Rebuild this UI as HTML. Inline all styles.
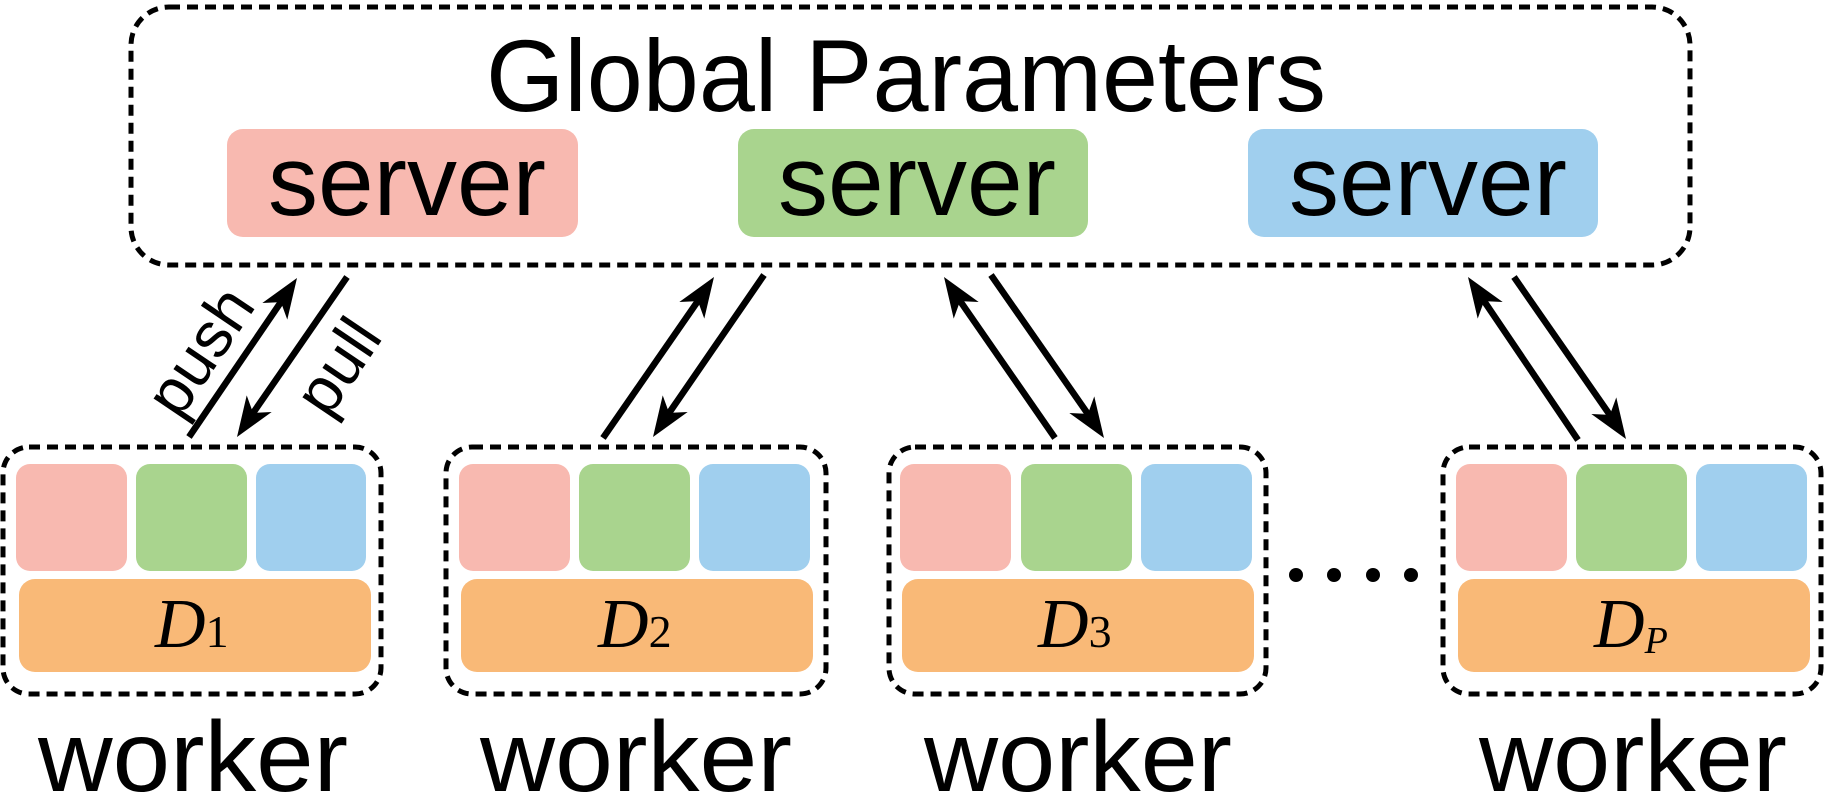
<!DOCTYPE html>
<html><head><meta charset="utf-8"><style>
html,body{margin:0;padding:0;background:#fff;}
svg{display:block;}
</style></head><body>
<svg width="1825" height="792" viewBox="0 0 1825 792" xmlns="http://www.w3.org/2000/svg">
<defs>
<marker id="ah" markerWidth="44" markerHeight="34" refX="0" refY="0" orient="auto" markerUnits="userSpaceOnUse" viewBox="-42 -17 44 34">
<path d="M0,0 L-40,-15 L-29,0 L-40,15 Z" fill="#000"/>
</marker>
</defs>
<g fill="none" stroke="#000" stroke-width="5" stroke-dasharray="11 7">
<rect x="131" y="7" width="1559" height="258" rx="38"/>
<rect x="3" y="447" width="378" height="247" rx="26"/>
<rect x="446" y="447" width="380" height="247" rx="26"/>
<rect x="889" y="447" width="377" height="247" rx="26"/>
<rect x="1443" y="447" width="378" height="247" rx="26"/>
</g>
<text x="486" y="111" font-family="Liberation Sans, sans-serif" font-size="102" textLength="840" lengthAdjust="spacingAndGlyphs">Global Parameters</text>
<rect x="227" y="129" width="351" height="108" rx="16" fill="#F8B9B0"/>
<rect x="738" y="129" width="350" height="108" rx="16" fill="#A9D48E"/>
<rect x="1248" y="129" width="350" height="108" rx="16" fill="#A0CFEE"/>
<g font-family="Liberation Sans, sans-serif" font-size="100">
<text x="268" y="215" textLength="278" lengthAdjust="spacingAndGlyphs">server</text>
<text x="778" y="215" textLength="278" lengthAdjust="spacingAndGlyphs">server</text>
<text x="1289" y="215" textLength="278" lengthAdjust="spacingAndGlyphs">server</text>
</g>
<g>
<rect x="16" y="464" width="111" height="107" rx="14" fill="#F8B9B0"/>
<rect x="136" y="464" width="111" height="107" rx="14" fill="#A9D48E"/>
<rect x="256" y="464" width="110" height="107" rx="14" fill="#A0CFEE"/>
<rect x="19" y="579" width="352" height="93" rx="16" fill="#F9B977"/>

<rect x="459" y="464" width="111" height="107" rx="14" fill="#F8B9B0"/>
<rect x="579" y="464" width="111" height="107" rx="14" fill="#A9D48E"/>
<rect x="699" y="464" width="111" height="107" rx="14" fill="#A0CFEE"/>
<rect x="461" y="579" width="352" height="93" rx="16" fill="#F9B977"/>

<rect x="900" y="464" width="111" height="107" rx="14" fill="#F8B9B0"/>
<rect x="1021" y="464" width="111" height="107" rx="14" fill="#A9D48E"/>
<rect x="1141" y="464" width="111" height="107" rx="14" fill="#A0CFEE"/>
<rect x="902" y="579" width="352" height="93" rx="16" fill="#F9B977"/>

<rect x="1456" y="464" width="111" height="107" rx="14" fill="#F8B9B0"/>
<rect x="1576" y="464" width="111" height="107" rx="14" fill="#A9D48E"/>
<rect x="1696" y="464" width="111" height="107" rx="14" fill="#A0CFEE"/>
<rect x="1458" y="579" width="352" height="93" rx="16" fill="#F9B977"/>
</g>
<g font-family="Liberation Serif, serif">
<text x="155" y="647" font-size="70" font-style="italic">D<tspan font-style="normal" font-size="46">1</tspan></text>
<text x="598" y="647" font-size="70" font-style="italic">D<tspan font-style="normal" font-size="46">2</tspan></text>
<text x="1038" y="647" font-size="70" font-style="italic">D<tspan font-style="normal" font-size="46">3</tspan></text>
<text x="1594" y="647" font-size="70" font-style="italic">D<tspan font-size="38" dy="6">P</tspan></text>
</g>
<g font-family="Liberation Sans, sans-serif" font-size="100">
<text x="38" y="791" textLength="310" lengthAdjust="spacingAndGlyphs">worker</text>
<text x="480" y="791" textLength="312" lengthAdjust="spacingAndGlyphs">worker</text>
<text x="924" y="791" textLength="308" lengthAdjust="spacingAndGlyphs">worker</text>
<text x="1479" y="791" textLength="308" lengthAdjust="spacingAndGlyphs">worker</text>
</g>
<g fill="#000">
<circle cx="1296" cy="575" r="7"/><circle cx="1334" cy="575" r="7"/><circle cx="1373" cy="575" r="7"/><circle cx="1411" cy="575" r="7"/>
</g>
<g stroke="#000" stroke-width="6.5" fill="none">
<line x1="189" y1="437" x2="283" y2="299"/>
<line x1="347" y1="277" x2="251" y2="416"/>
<line x1="603" y1="438" x2="700" y2="298"/>
<line x1="764" y1="275" x2="667" y2="416"/>
<line x1="1055" y1="438" x2="958" y2="298"/>
<line x1="991" y1="275" x2="1090" y2="417"/>
<line x1="1578" y1="440" x2="1482" y2="298"/>
<line x1="1514" y1="277" x2="1612" y2="418"/>
</g>
<g stroke="none" fill="none">
<path d="M283,299 L297,278" marker-end="url(#ah)"/>
<path d="M251,416 L237,437" marker-end="url(#ah)"/>
<path d="M700,298 L714,277" marker-end="url(#ah)"/>
<path d="M667,416 L653,437" marker-end="url(#ah)"/>
<path d="M958,298 L944,277" marker-end="url(#ah)"/>
<path d="M1090,417 L1104,438" marker-end="url(#ah)"/>
<path d="M1482,298 L1468,277" marker-end="url(#ah)"/>
<path d="M1612,418 L1626,439" marker-end="url(#ah)"/>
</g>
<g font-family="Liberation Sans, sans-serif" font-size="64">
<text x="204" y="354" text-anchor="middle" dominant-baseline="middle" transform="rotate(-56 204 354)">push</text>
<text x="342" y="369" text-anchor="middle" dominant-baseline="middle" transform="rotate(-56 342 369)">pull</text>
</g>
</svg>
</body></html>
